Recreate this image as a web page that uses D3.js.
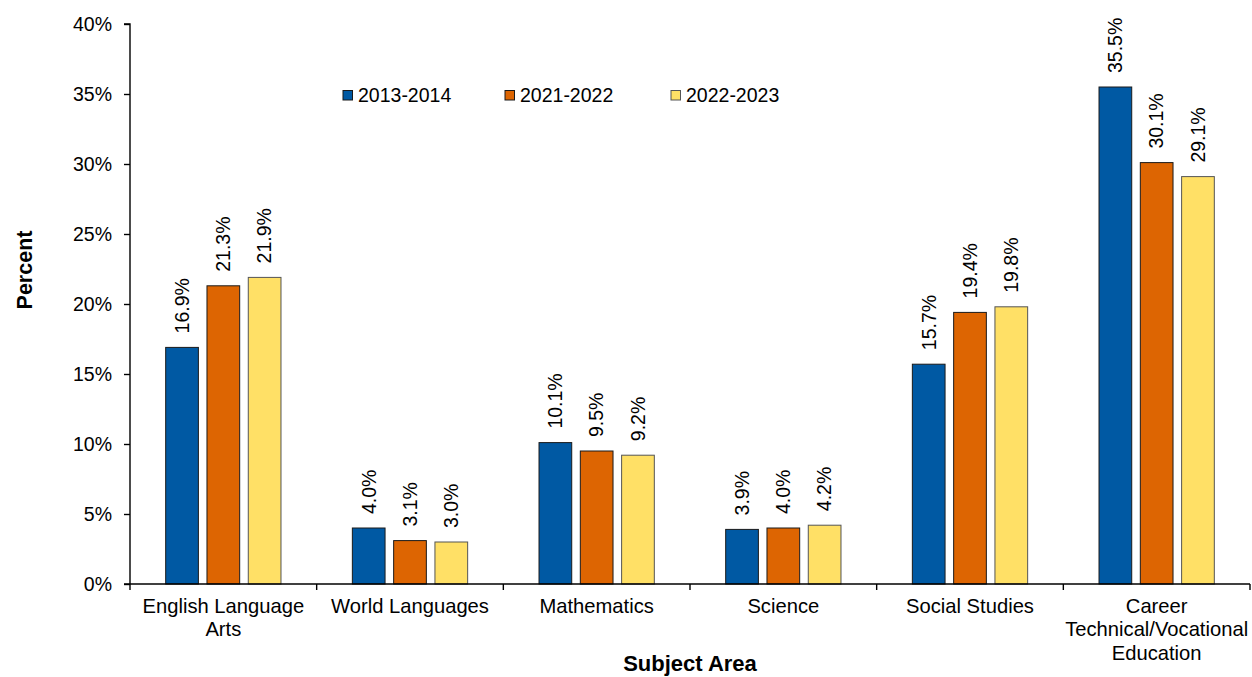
<!DOCTYPE html>
<html><head><meta charset="utf-8">
<script src="https://cdn.jsdelivr.net/npm/d3@7"></script>
<style>
html,body{margin:0;padding:0;background:#fff;}
text{font-family:"Liberation Sans",Arial,sans-serif;fill:#000;}
</style></head>
<body>
<svg id="chart" width="1252" height="677"></svg>
<script>
const categories = [["English Language","Arts"],["World Languages"],["Mathematics"],["Science"],["Social Studies"],["Career","Technical/Vocational","Education"]];
const seriesNames = ["2013-2014","2021-2022","2022-2023"];
const values2013 = [16.9, 4.0, 10.1, 3.9, 15.7, 35.5];
const values2021 = [21.3, 3.1, 9.5, 4.0, 19.4, 30.1];
const values2022 = [21.9, 3.0, 9.2, 4.2, 19.8, 29.1];
const yTicks = [0,5,10,15,20,25,30,35,40];
const colors = ["#0059A3","#DD6502","#FFE066"];
const strokes = ["#1a1a1a","#1a1a1a","#555555"];

const allValues = [values2013, values2021, values2022];
const svg = d3.select("#chart");
const m = {left:130, right:1250, top:24, bottom:584};
const fs = "19.5px";

const x0 = d3.scaleBand().domain(d3.range(categories.length)).range([m.left, m.right]).padding(0);
const x1 = d3.scaleBand().domain(seriesNames).range([0, x0.bandwidth()]).paddingInner(0.208).paddingOuter(0.864);
const y = d3.scaleLinear().domain([0,40]).range([m.bottom, m.top]);

// bars
seriesNames.forEach((s, si) => {
  const g = svg.append("g");
  g.selectAll("rect").data(allValues[si]).join("rect")
    .attr("x", (d,i) => x0(i) + x1(s))
    .attr("y", d => y(d))
    .attr("width", x1.bandwidth())
    .attr("height", d => y(0) - y(d))
    .attr("fill", colors[si])
    .attr("stroke", strokes[si])
    .attr("stroke-width", 1);
  g.selectAll("text").data(allValues[si]).join("text")
    .attr("transform", (d,i) => `translate(${x0(i) + x1(s) + x1.bandwidth()/2},${y(d) - 14}) rotate(-90)`)
    .attr("dy", "0.35em")
    .attr("text-anchor", "start")
    .style("font-size", fs)
    .text(d => d.toFixed(1) + "%");
});

// y axis
const yAxis = d3.axisLeft(y).tickValues(yTicks).tickSize(6).tickPadding(12).tickFormat(d => d + "%");
const ya = svg.append("g").attr("transform", `translate(${m.left},0)`).call(yAxis);
ya.select(".domain").attr("stroke", "#000").attr("stroke-width", 1.4).attr("d", `M-6,${m.top}H0V${m.bottom}`);
ya.selectAll(".tick line").attr("stroke", "#000").attr("stroke-width", 1.4);
ya.selectAll(".tick text").style("font-size", fs).style("font-family", '"Liberation Sans",Arial,sans-serif').attr("fill", "#000");

// x axis
const xa = svg.append("g");
xa.append("line").attr("x1", m.left - 6).attr("x2", m.right).attr("y1", m.bottom).attr("y2", m.bottom)
  .attr("stroke", "#000").attr("stroke-width", 1.4);
const bounds = d3.range(categories.length + 1).map(i => i < categories.length ? x0(i) : m.right);
xa.selectAll("line.tk").data(bounds).join("line").attr("class","tk")
  .attr("x1", d => d).attr("x2", d => d).attr("y1", m.bottom).attr("y2", m.bottom + 6)
  .attr("stroke", "#000").attr("stroke-width", 1.4);
const cl = xa.selectAll("text.cat").data(categories).join("text").attr("class","cat")
  .attr("text-anchor", "middle").style("font-size", "20.2px");
cl.each(function(lines, i){
  const t = d3.select(this);
  lines.forEach((ln, li) => {
    t.append("tspan").attr("x", x0(i) + x0.bandwidth()/2).attr("y", 613 + li*23.4).text(ln);
  });
});

// axis titles
svg.append("text").attr("x", (m.left + m.right)/2).attr("y", 671).attr("text-anchor","middle")
  .style("font-size","22px").style("font-weight","bold").text("Subject Area");
svg.append("text").attr("transform","translate(32,270) rotate(-90)").attr("text-anchor","middle")
  .style("font-size","21.5px").style("font-weight","bold").text("Percent");

// legend
const legX = [343, 505, 671];
const lg = svg.append("g");
seriesNames.forEach((s, si) => {
  lg.append("rect").attr("x", legX[si]).attr("y", 90.5).attr("width", 9.5).attr("height", 9.5)
    .attr("fill", colors[si]).attr("stroke", strokes[si]).attr("stroke-width", 1);
  lg.append("text").attr("x", legX[si] + 15).attr("y", 101.5).style("font-size", fs).text(s);
});
</script>
</body></html>
